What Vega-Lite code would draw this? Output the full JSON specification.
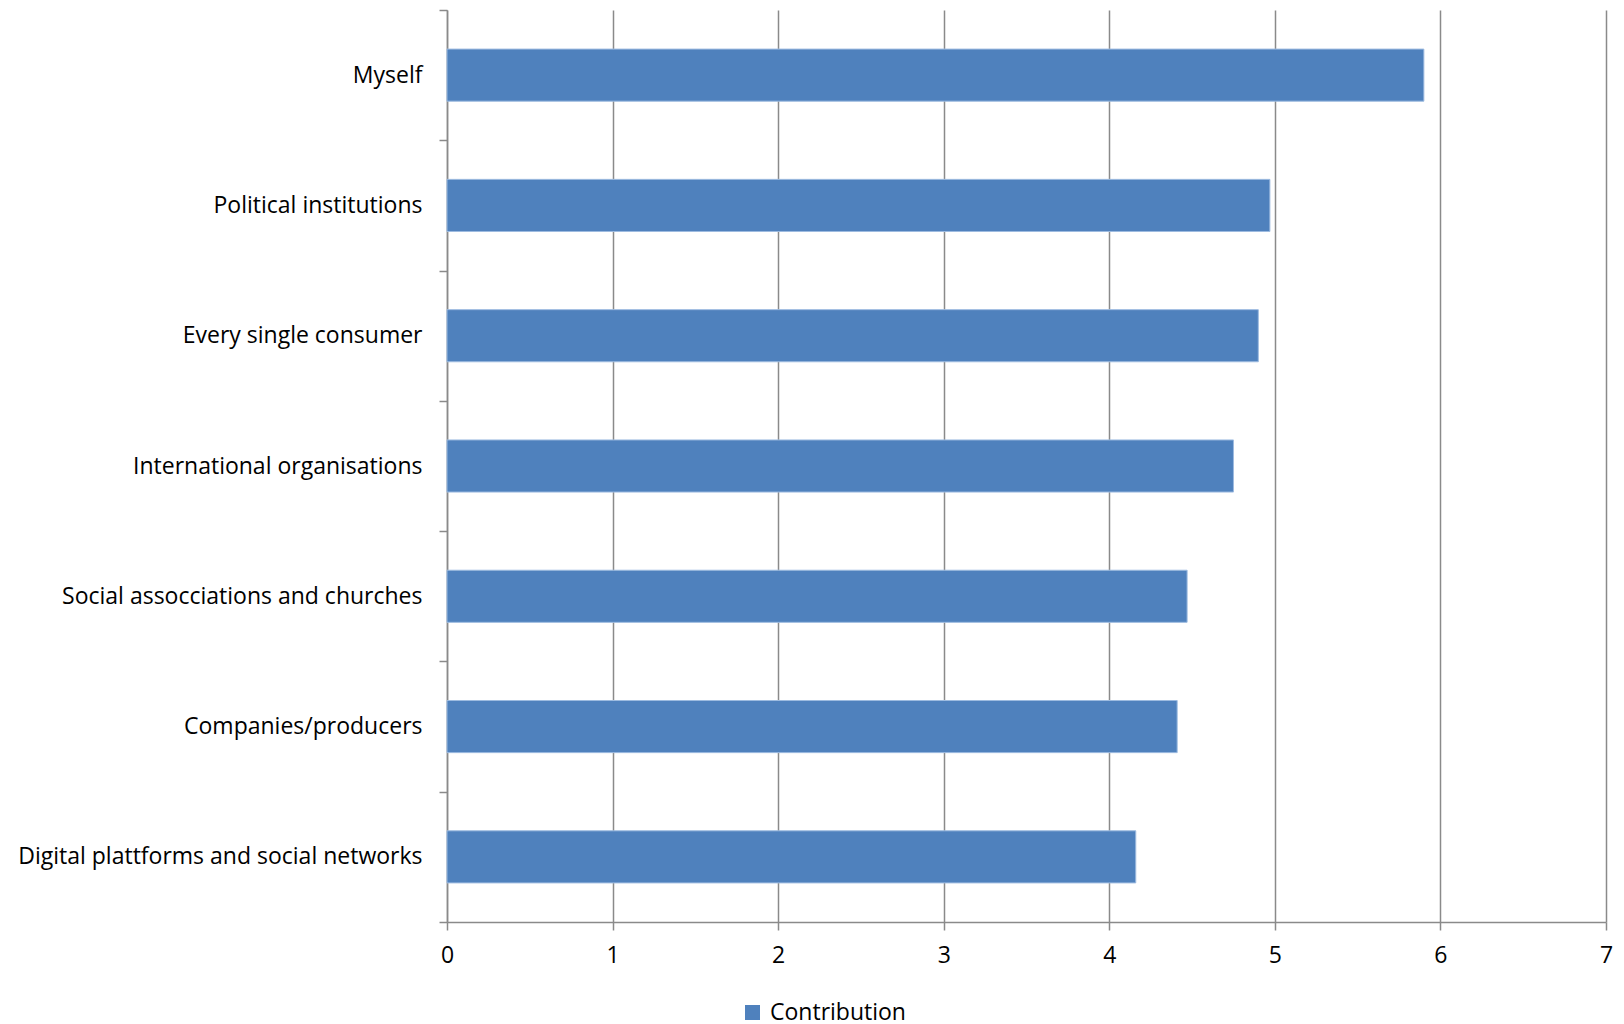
{
  "$schema": "https://vega.github.io/schema/vega-lite/v6.json",
  "width": 1159,
  "height": 912,
  "autosize": {"type": "none"},
  "padding": {"left": 447, "top": 10, "right": 18, "bottom": 102},
  "background": "white",
  "config": {
    "font": "Open Sans",
    "view": {"stroke": null}
  },
  "data": {
    "values": [
      {"actor": "Myself", "value": 5.90},
      {"actor": "Political institutions", "value": 4.97},
      {"actor": "Every single consumer", "value": 4.90},
      {"actor": "International organisations", "value": 4.75},
      {"actor": "Social assocciations and churches", "value": 4.47},
      {"actor": "Companies/producers", "value": 4.41},
      {"actor": "Digital plattforms and social networks", "value": 4.16}
    ]
  },
  "mark": {"type": "bar", "height": {"band": 0.4}, "stroke": "#9dbbe0", "strokeWidth": 1},
  "encoding": {
    "y": {
      "field": "actor",
      "type": "nominal",
      "sort": null,
      "scale": {"paddingInner": 0, "paddingOuter": 0},
      "axis": {
        "title": null,
        "tickBand": "extent",
        "tickSize": 8,
        "tickColor": "#8a8a8a",
        "tickWidth": 1.5,
        "domainColor": "#8a8a8a",
        "domainWidth": 1.5,
        "labelFontSize": 23,
        "labelColor": "#000000",
        "labelPadding": 17,
        "labelLimit": 600,
        "grid": false
      }
    },
    "x": {
      "field": "value",
      "type": "quantitative",
      "scale": {"domain": [0, 7], "nice": false},
      "axis": {
        "title": null,
        "values": [0, 1, 2, 3, 4, 5, 6, 7],
        "format": "d",
        "grid": true,
        "gridColor": "#8a8a8a",
        "gridWidth": 1.5,
        "tickSize": 8,
        "tickColor": "#8a8a8a",
        "tickWidth": 1.5,
        "domainColor": "#8a8a8a",
        "domainWidth": 1.5,
        "labelFontSize": 23,
        "labelColor": "#000000",
        "labelPadding": 14,
        "labelFlush": false
      }
    },
    "color": {
      "datum": "Contribution",
      "scale": {"range": ["#4F81BD"]},
      "legend": {
        "title": null,
        "orient": "none",
        "legendX": 294,
        "legendY": 991,
        "symbolType": "square",
        "symbolSize": 225,
        "symbolStrokeWidth": 0,
        "labelFontSize": 23,
        "labelColor": "#000000",
        "labelOffset": 6
      }
    }
  }
}
